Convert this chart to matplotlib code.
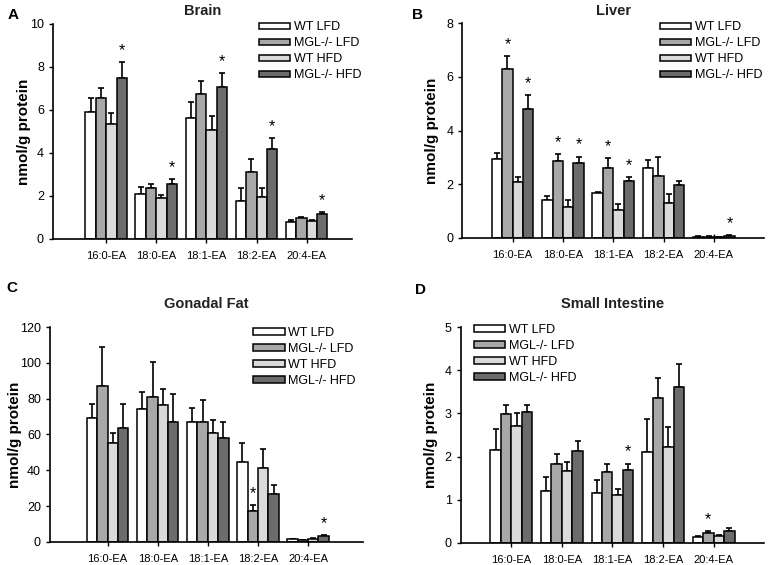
import numpy as np
import matplotlib.pyplot as plt
from matplotlib.patches import Patch

plt.rcParams['font.family'] = ['Liberation Sans', 'DejaVu Sans']

lipids = ['16:0-EA', '18:0-EA', '18:1-EA', '18:2-EA', '20:4-EA']
groups = ['WT LFD', 'MGL-/- LFD', 'WT HFD', 'MGL-/- HFD']
colors = ['#ffffff', '#a8a8a8', '#dadada', '#6c6c6c']

# mean values, one list per group (order of lipids)
brain_mean = [[5.9, 2.1, 5.6, 1.75, 0.8],
              [6.55, 2.35, 6.75, 3.1, 0.98],
              [5.35, 1.9, 5.05, 1.95, 0.85],
              [7.5, 2.55, 7.05, 4.2, 1.15]]
brain_top = [[6.55, 2.4, 6.35, 2.35, 0.9],
             [7.0, 2.55, 7.35, 3.7, 1.03],
             [5.85, 2.05, 5.7, 2.35, 0.9],
             [8.2, 2.8, 7.7, 4.7, 1.25]]
brain_star = [(0, 3), (1, 3), (2, 3), (3, 3), (4, 3)]

liver_mean = [[2.95, 1.42, 1.67, 2.62, 0.05],
              [6.3, 2.87, 2.62, 2.32, 0.05],
              [2.1, 1.15, 1.02, 1.3, 0.04],
              [4.8, 2.8, 2.12, 1.97, 0.07]]
liver_top = [[3.15, 1.55, 1.72, 2.9, 0.06],
             [6.78, 3.12, 2.98, 3.0, 0.06],
             [2.25, 1.4, 1.25, 1.65, 0.05],
             [5.32, 3.03, 2.27, 2.12, 0.09]]
liver_star = [(0, 1), (0, 3), (1, 1), (1, 3), (2, 1), (2, 3), (4, 3)]

fat_mean = [[69, 74.5, 67, 44.5, 1.5],
            [87, 81, 67, 17.5, 1.0],
            [55, 76.5, 61, 41.5, 1.8],
            [63.5, 67, 58, 27, 3.3]]
fat_top = [[77, 84, 75, 55, 1.8],
           [109, 100.5, 79, 20.5, 1.2],
           [61, 85.5, 68, 52, 2.1],
           [77, 82.5, 67, 31.5, 3.8]]
fat_star = [(3, 1), (4, 3)]

si_mean = [[2.15, 1.2, 1.15, 2.1, 0.13],
           [2.98, 1.83, 1.65, 3.35, 0.24],
           [2.7, 1.67, 1.1, 2.23, 0.16],
           [3.03, 2.13, 1.7, 3.62, 0.28]]
si_top = [[2.65, 1.52, 1.47, 2.88, 0.16],
          [3.2, 2.05, 1.82, 3.83, 0.27],
          [3.0, 1.87, 1.26, 2.68, 0.18],
          [3.2, 2.37, 1.84, 4.15, 0.35]]
si_star = [(2, 3), (4, 1)]

fig = plt.figure(figsize=(7.68, 5.65), dpi=100)


def panel(rect, title, letter, mean, top, stars, ymax, ystep, xlim, leg_anchor, title_y, letter_xy, ylab_x):
    ax = fig.add_axes(rect)
    x = np.arange(len(lipids))
    w = 0.207
    for i, g in enumerate(groups):
        m = np.array(mean[i])
        t = np.array(top[i])
        pos = x + (i - 1.5) * w
        ax.bar(pos, m, w, color=colors[i], edgecolor='black', linewidth=1.1, label=g, zorder=2)
        ax.errorbar(pos, m, yerr=[np.zeros_like(m), t - m], fmt='none', ecolor='black',
                    elinewidth=1.2, capsize=2.5, capthick=1.2, zorder=1)
    for j, i in stars:
        ax.annotate('*', (x[j] + (i - 1.5) * w, top[i][j]), xytext=(0, 5),
                    textcoords='offset points', ha='center', va='baseline', fontsize=11.5)
    ax.set_xlim(*xlim)
    ax.set_ylim(0, ymax)
    ax.set_yticks(np.arange(0, ymax + ystep / 2, ystep))
    ax.set_xticks(x)
    ax.set_xticklabels(lipids, fontsize=8)
    ax.tick_params(axis='x', direction='inout', length=6, width=1, pad=6)
    ax.tick_params(axis='y', direction='out', length=3, width=1, labelsize=9)
    for s in ['top', 'right']:
        ax.spines[s].set_visible(False)
    for s in ['left', 'bottom']:
        ax.spines[s].set_linewidth(1.2)
    ax.set_ylabel('nmol/g protein', fontsize=11, fontweight='bold')
    ax.yaxis.set_label_coords(ylab_x, 0.5)
    fig.text(rect[0] + rect[2] / 2, title_y, title, ha='center', va='center',
             fontsize=10.5, fontweight='bold', color='#222222')
    fig.text(letter_xy[0], letter_xy[1], letter, ha='center', va='center',
             fontsize=11, fontweight='bold')
    handles = [Patch(facecolor=c, edgecolor='black', linewidth=1.1) for c in colors]
    ax.legend(handles, groups, loc='upper left', bbox_to_anchor=leg_anchor,
              bbox_transform=fig.transFigure, frameon=False, fontsize=9,
              handlelength=2.5, handleheight=0.45, labelspacing=0.32,
              handletextpad=0.3, borderpad=0, borderaxespad=0)
    return ax


panel([0.069, 0.577, 0.389, 0.381], 'Brain', 'A', brain_mean, brain_top, brain_star,
      10, 2, (-1.06, 4.9), (0.337, 0.962), 0.980, (0.017, 0.973), -0.072)
panel([0.602, 0.579, 0.393, 0.380], 'Liver', 'B', liver_mean, liver_top, liver_star,
      8, 2, (-1.0, 5.0), (0.859, 0.962), 0.980, (0.543, 0.973), -0.078)
panel([0.065, 0.041, 0.408, 0.380], 'Gonadal Fat', 'C', fat_mean, fat_top, fat_star,
      120, 20, (-1.15, 5.1), (0.330, 0.421), 0.462, (0.015, 0.490), -0.088)
panel([0.600, 0.039, 0.395, 0.382], 'Small Intestine', 'D', si_mean, si_top, si_star,
      5, 1, (-1.0, 5.0), (0.617, 0.426), 0.462, (0.548, 0.486), -0.074)

fig.savefig('out.png', dpi=100)
